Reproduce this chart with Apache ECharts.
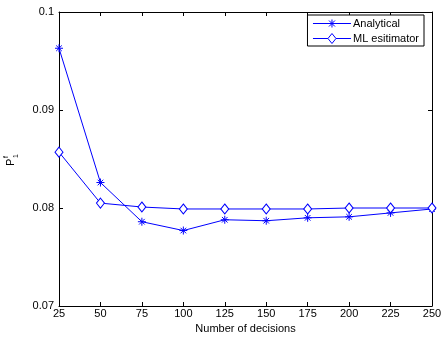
<!DOCTYPE html>
<html><head><meta charset="utf-8">
<script src="https://cdn.jsdelivr.net/npm/echarts@6/dist/echarts.min.js"></script>
<style>html,body{margin:0;padding:0;background:#fff}#c{width:445px;height:338px}</style>
</head><body><div id="c"></div>
<script>
const decisions = [25, 50, 75, 100, 125, 150, 175, 200, 225, 250];
const analytical = [0.0963, 0.0826, 0.0786, 0.0777, 0.0788, 0.0787, 0.0790, 0.0791, 0.0795, 0.0799];
const mlEstimator = [0.0857, 0.0805, 0.0801, 0.0799, 0.0799, 0.0799, 0.0799, 0.0800, 0.0800, 0.0800];
const yTicks = [0.07, 0.08, 0.09, 0.1];

const font = 'Liberation Sans, Arial, sans-serif';
const star = 'path://M0,-5L0,5M-5,0L5,0M-3.5,-3.5L3.5,3.5M-3.5,3.5L3.5,-3.5';
const starLegend = 'path://M-19,0L19,0M0,-4L0,4M-4,0L4,0M-3,-3L3,3M-3,3L3,-3M-19,-5L-19,-5M19,5L19,5';
const diamondLegend = 'path://M-19,0L-4,0M4,0L19,0M0,-5L4,0L0,5L-4,0Z';
const chart = echarts.init(document.getElementById('c'), null, {renderer: 'canvas'});
const axisCommon = {
  axisLine: {show: true, lineStyle: {color: '#000', width: 1}},
  axisTick: {show: true, inside: true, length: 4, lineStyle: {color: '#000'}},
  splitLine: {show: false}
};
chart.setOption({
  animation: false,
  backgroundColor: '#fff',
  grid: {left: 59, right: 13, top: 12, bottom: 32, containLabel: false, outerBoundsMode: 'none'},
  legend: {
    orient: 'vertical', right: 21, top: 15,
    borderColor: '#000', borderWidth: 1, backgroundColor: '#fff',
    padding: [3, 5, 2, 5], itemGap: 4, itemWidth: 38, itemHeight: 10,
    textStyle: {fontFamily: font, fontSize: 11, color: '#000', padding: [0, 0, 0, -3]},
    data: [
      {name: 'Analytical', icon: starLegend, itemStyle: {color: '#0000ff', borderColor: '#0000ff', borderWidth: 1}},
      {name: 'ML esitimator', icon: diamondLegend, itemStyle: {color: '#fff', borderColor: '#0000ff', borderWidth: 1}}
    ]
  },
  xAxis: [
    Object.assign({type: 'value', min: 25, max: 250, interval: 25, position: 'bottom',
      name: 'Number of decisions', nameLocation: 'middle', nameGap: 16,
      nameTextStyle: {fontFamily: font, fontSize: 11, color: '#000'},
      axisLabel: {fontFamily: font, fontSize: 11, color: '#000', margin: 2}}, axisCommon),
    Object.assign({type: 'value', min: 25, max: 250, interval: 25, position: 'top',
      axisLabel: {show: false}}, axisCommon)
  ],
  yAxis: [
    Object.assign({type: 'value', min: yTicks[0], max: yTicks[yTicks.length - 1], interval: 0.01, position: 'left',
      axisLabel: {fontFamily: font, fontSize: 11, color: '#000', margin: 5}}, axisCommon),
    Object.assign({type: 'value', min: yTicks[0], max: yTicks[yTicks.length - 1], interval: 0.01, position: 'right',
      axisLabel: {show: false}}, axisCommon)
  ],
  graphic: [{
    type: 'group', x: 16, y: 166, rotation: Math.PI / 2,
    children: [
      {type: 'text', x: 0, y: 0, style: {text: 'P', font: '11px ' + font, fill: '#000', textAlign: 'left', textVerticalAlign: 'bottom'}},
      {type: 'text', x: 8, y: -6, style: {text: 'f', font: '7px ' + font, fill: '#000', textAlign: 'left', textVerticalAlign: 'bottom'}},
      {type: 'text', x: 8, y: 4, style: {text: '1', font: '7px ' + font, fill: '#000', textAlign: 'left', textVerticalAlign: 'bottom'}}
    ]
  }],
  series: [
    {name: 'Analytical', type: 'line', data: decisions.map((d, i) => [d, analytical[i]]),
      symbol: star, symbolSize: 8, showAllSymbol: true,
      lineStyle: {color: '#0000ff', width: 1},
      itemStyle: {color: '#0000ff', borderColor: '#0000ff', borderWidth: 1}},
    {name: 'ML esitimator', type: 'line', data: decisions.map((d, i) => [d, mlEstimator[i]]),
      symbol: 'diamond', symbolSize: [8, 10], showAllSymbol: true,
      lineStyle: {color: '#0000ff', width: 1},
      itemStyle: {color: '#fff', borderColor: '#0000ff', borderWidth: 1}}
  ]
});
</script></body></html>
